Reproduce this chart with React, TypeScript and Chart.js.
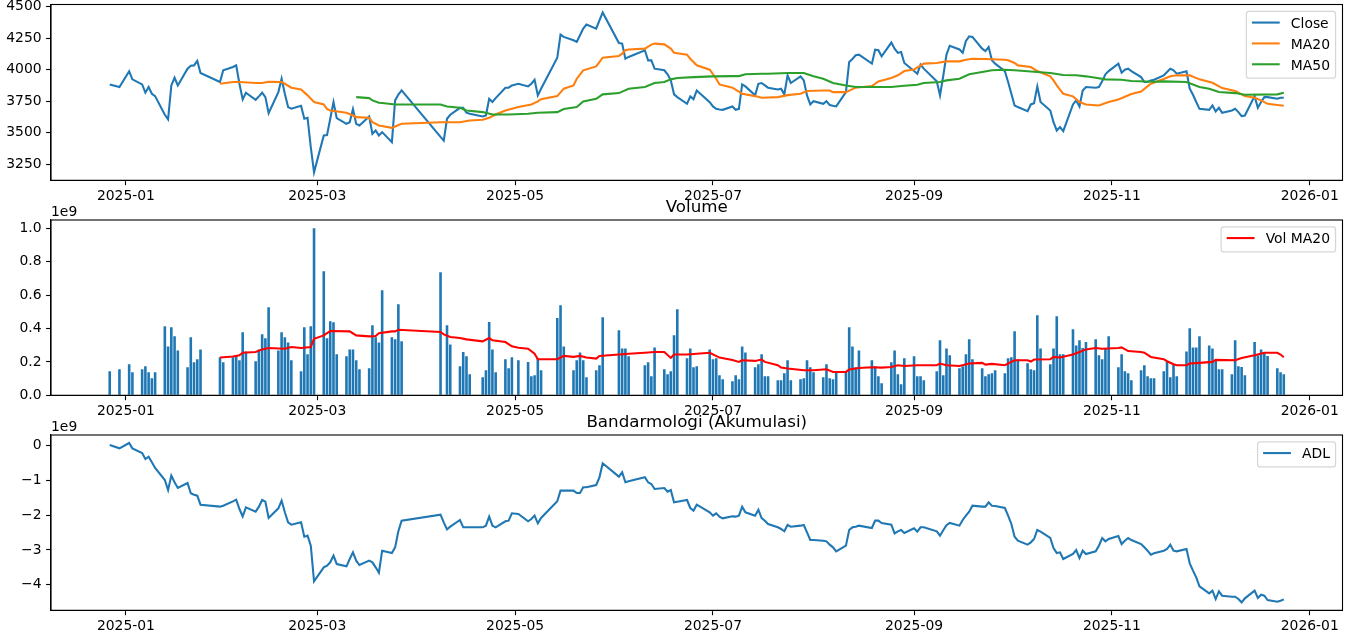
import React, { useEffect, useRef } from 'react';
import { Chart, registerables } from 'chart.js';

Chart.register(...registerables);

// ---------------- DATA ----------------
const dates: string[] = [
  '2024-12-27','2024-12-30',
  '2025-01-02','2025-01-03','2025-01-06','2025-01-07','2025-01-08','2025-01-09','2025-01-10','2025-01-13','2025-01-14','2025-01-15','2025-01-16','2025-01-17','2025-01-20','2025-01-21','2025-01-22','2025-01-23','2025-01-24','2025-01-30','2025-01-31',
  '2025-02-03','2025-02-04','2025-02-05','2025-02-06','2025-02-07','2025-02-10','2025-02-11','2025-02-12','2025-02-13','2025-02-14','2025-02-17','2025-02-18','2025-02-19','2025-02-20','2025-02-21','2025-02-24','2025-02-25','2025-02-26','2025-02-27','2025-02-28',
  '2025-03-03','2025-03-04','2025-03-05','2025-03-06','2025-03-07','2025-03-10','2025-03-11','2025-03-12','2025-03-13','2025-03-14','2025-03-17','2025-03-18','2025-03-19','2025-03-20','2025-03-21','2025-03-24','2025-03-25','2025-03-26','2025-03-27',
  '2025-04-08','2025-04-09','2025-04-10','2025-04-11','2025-04-14','2025-04-15','2025-04-16','2025-04-17','2025-04-21','2025-04-22','2025-04-23','2025-04-24','2025-04-25','2025-04-28','2025-04-29','2025-04-30',
  '2025-05-02','2025-05-05','2025-05-06','2025-05-07','2025-05-08','2025-05-09','2025-05-14','2025-05-15','2025-05-16','2025-05-19','2025-05-20','2025-05-21','2025-05-22','2025-05-23','2025-05-26','2025-05-27','2025-05-28',
  '2025-06-02','2025-06-03','2025-06-04','2025-06-05','2025-06-10','2025-06-11','2025-06-12','2025-06-13','2025-06-16','2025-06-17','2025-06-18','2025-06-19','2025-06-20','2025-06-23','2025-06-24','2025-06-25','2025-06-26','2025-06-30',
  '2025-07-01','2025-07-02','2025-07-03','2025-07-04','2025-07-07','2025-07-08','2025-07-09','2025-07-10','2025-07-11','2025-07-14','2025-07-15','2025-07-16','2025-07-17','2025-07-18','2025-07-21','2025-07-22','2025-07-23','2025-07-24','2025-07-25','2025-07-28','2025-07-29','2025-07-30','2025-07-31',
  '2025-08-01','2025-08-04','2025-08-05','2025-08-06','2025-08-07','2025-08-08','2025-08-11','2025-08-12','2025-08-13','2025-08-14','2025-08-15','2025-08-19','2025-08-20','2025-08-21','2025-08-22','2025-08-25','2025-08-26','2025-08-27','2025-08-28','2025-08-29',
  '2025-09-01','2025-09-02','2025-09-03','2025-09-04','2025-09-08','2025-09-09','2025-09-10','2025-09-11','2025-09-12','2025-09-15','2025-09-16','2025-09-17','2025-09-18','2025-09-19','2025-09-22','2025-09-23','2025-09-24','2025-09-25','2025-09-26','2025-09-29','2025-09-30',
  '2025-10-01','2025-10-02','2025-10-03','2025-10-06','2025-10-07','2025-10-08','2025-10-09','2025-10-10','2025-10-13','2025-10-14','2025-10-15','2025-10-16','2025-10-17','2025-10-20','2025-10-21','2025-10-22','2025-10-23','2025-10-24','2025-10-27','2025-10-28','2025-10-29','2025-10-30','2025-10-31',
  '2025-11-03','2025-11-04','2025-11-05','2025-11-06','2025-11-07','2025-11-10','2025-11-11','2025-11-12','2025-11-13','2025-11-14','2025-11-17','2025-11-18','2025-11-19','2025-11-20','2025-11-21','2025-11-24','2025-11-25','2025-11-26','2025-11-27','2025-11-28',
  '2025-12-01','2025-12-02','2025-12-03','2025-12-04','2025-12-05','2025-12-08','2025-12-09','2025-12-10','2025-12-11','2025-12-12','2025-12-15','2025-12-16','2025-12-17','2025-12-18','2025-12-19','2025-12-22','2025-12-23','2025-12-24',
];

const close: number[] = [
  3883, 3862,
  3987, 3923, 3883, 3817, 3862, 3809, 3790, 3642, 3605, 3875, 3936, 3875, 4008, 4032, 4034, 4069, 3973, 3902, 3995,
  4021, 4034, 3888, 3764, 3817, 3761, 3788, 3817, 3782, 3655, 3822, 3928, 3809, 3703, 3690, 3713, 3610, 3618, 3384, 3185,
  3477, 3480, 3610, 3743, 3615, 3570, 3583, 3687, 3570, 3557, 3628, 3490, 3517, 3477, 3504, 3424, 3756, 3803, 3835,
  3466, 3437, 3610, 3642, 3697, 3697, 3658, 3650, 3628, 3636, 3769, 3743, 3774, 3857, 3857, 3875,
  3888, 3867, 3888, 3920, 3796, 3849, 4095, 4278, 4260, 4233, 4220, 4273, 4326, 4358, 4326, 4392, 4454,
  4212, 4207, 4087, 4101, 4154, 4074, 4074, 4008, 3995, 3963, 3915, 3804, 3782, 3729, 3788, 3766, 3835, 3742,
  3708, 3689, 3684, 3681, 3708, 3681, 3689, 3883, 3867, 3796, 3888, 3894, 3875, 3857, 3843, 3849, 3804, 3955, 3894, 3947, 3915, 3796, 3724,
  3750, 3729, 3750, 3719, 3713, 3708, 3822, 4061, 4085, 4114, 4119, 4048, 4159, 4154, 4106, 4215, 4167, 4133, 4140, 4053,
  3989, 3968, 4040, 4008, 3907, 3796, 3950, 4120, 4190, 4160, 4135, 4228, 4265, 4260, 4167, 4148, 4180, 4074, 4048, 3989, 3902,
  3809, 3716, 3703, 3671, 3724, 3734, 3867, 3743, 3676, 3583, 3517, 3544, 3512, 3724, 3756, 3708, 3835, 3862, 3857, 3862, 3907, 3963, 3989,
  4048, 3976, 4000, 4008, 3989, 3941, 3902, 3902, 3915, 3920, 3955, 3981, 4008, 3995, 3968, 3987, 3849, 3801, 3743, 3689,
  3681, 3716, 3668, 3697, 3658, 3676, 3689, 3663, 3631, 3636, 3790, 3697, 3743, 3782, 3782, 3769, 3777, 3777,
];

// traded volume, millions of shares
const volume: number[] = [
  144, 156,
  186, 138, 156, 174, 138, 102, 138, 413, 293, 407, 353, 269, 168, 347, 198, 216, 275, 228, 198,
  228, 240, 210, 377, 263, 204, 275, 365, 341, 527, 269, 377, 347, 317, 210, 144, 407, 246, 413, 1000,
  743, 341, 443, 437, 246, 234, 275, 275, 210, 156, 162, 419, 347, 317, 629, 347, 335, 545, 323,
  737, 0, 419, 305, 174, 259, 234, 126, 108, 150, 439, 275, 138, 216, 162, 228,
  210, 200, 114, 120, 224, 150, 463, 539, 293, 150, 210, 257, 210, 108, 150, 180, 467,
  389, 281, 281, 234, 180, 198, 114, 287, 156, 126, 144, 359, 515, 222, 281, 168, 174, 275,
  216, 222, 120, 96, 84, 120, 96, 293, 257, 168, 186, 246, 114, 114, 90, 90, 132, 210, 90, 96, 102, 210, 168,
  138, 108, 186, 102, 96, 138, 138, 407, 293, 168, 269, 210, 174, 114, 72, 198, 269, 126, 66, 222,
  234, 114, 114, 90, 144, 329, 120, 281, 240, 162, 174, 246, 335, 216, 162, 114, 126, 132, 150, 132, 222,
  228, 383, 216, 192, 156, 150, 479, 281, 186, 281, 473, 246, 246, 395, 299, 329, 283, 319, 335, 240, 216, 281, 353,
  168, 246, 144, 132, 90, 150, 180, 114, 102, 102, 144, 204, 108, 186, 114, 263, 401, 287, 287, 353,
  299, 281, 210, 156, 156, 126, 329, 174, 170, 120, 319, 240, 275, 259, 236, 162, 138, 126,
];

// accumulation / distribution line, millions
const adl: number[] = [
  20, -77,
  77, -77, -211, -384, -317, -480, -643, -988, -1276, -863, -1055, -1218, -1074, -1372, -1410, -1439, -1698, -1755, -1727,
  -1602, -1554, -1823, -2034, -1775, -1899, -1755, -1564, -1612, -2082, -1803, -1583, -1918, -2206, -2273, -2206, -2619, -2590, -2878, -3904,
  -3501, -3453, -3357, -3165, -3405, -3472, -3261, -3070, -3309, -3434, -3309, -3357, -3501, -3655, -3022, -3089, -2926, -2465, -2158,
  -1986, -2206, -2408, -2331, -2139, -2350, -2350, -2350, -2350, -2302, -2043, -2302, -2350, -2177, -2158, -1947,
  -1966, -2177, -2110, -2014, -2235, -2082, -1602, -1295, -1295, -1295, -1362, -1362, -1199, -1199, -1132, -911, -508,
  -892, -767, -1055, -1026, -911, -1055, -1103, -1247, -1218, -1324, -1276, -1631, -1612, -1564, -1794, -1871, -1698, -1918,
  -2014, -1947, -2043, -2091, -2034, -2043, -2014, -1755, -1918, -2014, -1842, -2082, -2158, -2254, -2350, -2398, -2465, -2283, -2331, -2302, -2283, -2494, -2715,
  -2715, -2734, -2753, -2849, -2926, -3041, -2878, -2427, -2350, -2331, -2302, -2369, -2158, -2158, -2225, -2273, -2523, -2465, -2427, -2513,
  -2379, -2475, -2350, -2350, -2465, -2590, -2436, -2290, -2225, -2302, -2139, -2014, -1899, -1727, -1755, -1755, -1631, -1727, -1736, -1794, -2014,
  -2254, -2619, -2734, -2849, -2782, -2686, -2427, -2475, -2657, -2945, -3089, -3070, -3261, -3118, -3002, -3233, -3022, -3118, -3041, -2878, -2657, -2753, -2686,
  -2600, -2830, -2734, -2657, -2715, -2830, -2926, -3022, -3137, -3098, -3022, -2974, -2849, -3022, -3041, -2974, -3386, -3597, -3789, -4048,
  -4249, -4173, -4413, -4192, -4317, -4345, -4345, -4413, -4508, -4393, -4173, -4384, -4288, -4317, -4441, -4489, -4460, -4422,
];

const ma20Dates: string[] = [
  '2025-01-30','2025-02-03','2025-02-05','2025-02-10','2025-02-12','2025-02-14','2025-02-18','2025-02-19','2025-02-21','2025-02-24','2025-02-26','2025-02-28',
  '2025-03-03','2025-03-04','2025-03-05','2025-03-10','2025-03-12','2025-03-13','2025-03-17','2025-03-18','2025-03-20','2025-03-24','2025-03-25','2025-03-27',
  '2025-04-08','2025-04-14','2025-04-17','2025-04-21','2025-04-23','2025-04-25','2025-04-28',
  '2025-05-02','2025-05-06','2025-05-08','2025-05-09','2025-05-14','2025-05-16','2025-05-19','2025-05-20','2025-05-22','2025-05-26','2025-05-28',
  '2025-06-02','2025-06-03','2025-06-04','2025-06-05','2025-06-10','2025-06-12','2025-06-13','2025-06-16','2025-06-18','2025-06-19','2025-06-23','2025-06-24','2025-06-26','2025-06-30',
  '2025-07-02','2025-07-03','2025-07-07','2025-07-10','2025-07-14','2025-07-16','2025-07-21','2025-07-24','2025-07-28','2025-07-30',
  '2025-08-04','2025-08-06','2025-08-07','2025-08-11','2025-08-14','2025-08-19','2025-08-21','2025-08-25','2025-08-27','2025-08-29',
  '2025-09-01','2025-09-04','2025-09-08','2025-09-11','2025-09-15','2025-09-17','2025-09-19','2025-09-23','2025-09-29','2025-09-30',
  '2025-10-02','2025-10-03','2025-10-07','2025-10-09','2025-10-13','2025-10-14','2025-10-15','2025-10-16','2025-10-17','2025-10-20','2025-10-22','2025-10-24','2025-10-28','2025-10-31',
  '2025-11-03','2025-11-07','2025-11-10','2025-11-13','2025-11-17','2025-11-19','2025-11-21','2025-11-25','2025-11-28',
  '2025-12-02','2025-12-05','2025-12-09','2025-12-12','2025-12-15','2025-12-17','2025-12-19','2025-12-22','2025-12-24',
];
const ma20: number[] = [
  3888, 3902, 3902, 3894, 3894, 3904, 3902, 3888, 3857, 3843, 3796, 3743,
  3724, 3689, 3676, 3658, 3636, 3623, 3618, 3583, 3557, 3538, 3549, 3570,
  3583, 3583, 3597, 3602, 3618, 3644, 3676,
  3703, 3724, 3748, 3766, 3790, 3849, 3875, 3928, 3995, 4026, 4095,
  4109, 4127, 4154, 4160, 4167, 4199, 4207, 4201, 4167, 4135, 4119, 4087, 4035, 4000,
  3928, 3883, 3857, 3809, 3790, 3777, 3782, 3798, 3809, 3830,
  3835, 3835, 3822, 3822, 3857, 3870, 3907, 3934, 3955, 3989,
  4002, 4048, 4053, 4066, 4066, 4079, 4087, 4085, 4079, 4074,
  4053, 4034, 4021, 3989, 3947, 3915, 3875, 3841, 3809, 3788, 3743, 3724, 3716, 3743,
  3764, 3806, 3827, 3888, 3926, 3947, 3955, 3955, 3923,
  3896, 3854, 3830, 3790, 3777, 3756, 3729, 3719, 3713,
];

const ma50Dates: string[] = [
  '2025-03-13','2025-03-17','2025-03-18','2025-03-20','2025-03-21','2025-03-25',
  '2025-04-08','2025-04-10','2025-04-14','2025-04-16','2025-04-21','2025-04-24','2025-04-29',
  '2025-05-05','2025-05-08','2025-05-14','2025-05-16','2025-05-20','2025-05-22','2025-05-26','2025-05-28',
  '2025-06-02','2025-06-05','2025-06-10','2025-06-13','2025-06-16','2025-06-18','2025-06-20','2025-06-25',
  '2025-07-01','2025-07-07','2025-07-09','2025-07-11','2025-07-16','2025-07-18','2025-07-24','2025-07-29',
  '2025-08-01','2025-08-04','2025-08-07','2025-08-11','2025-08-14','2025-08-25','2025-08-28',
  '2025-09-02','2025-09-04','2025-09-09','2025-09-11','2025-09-15','2025-09-18','2025-09-22','2025-09-25','2025-09-29',
  '2025-10-02','2025-10-08','2025-10-13','2025-10-17','2025-10-21','2025-10-24','2025-10-27','2025-10-30',
  '2025-11-04','2025-11-07','2025-11-14','2025-11-17','2025-11-24','2025-11-28',
  '2025-12-01','2025-12-04','2025-12-09','2025-12-12','2025-12-22','2025-12-24',
];
const ma50: number[] = [
  3782, 3774, 3756, 3737, 3735, 3724,
  3724, 3708, 3697, 3676, 3663, 3644, 3644,
  3650, 3658, 3663, 3687, 3703, 3748, 3769, 3804,
  3814, 3849, 3862, 3894, 3902, 3923, 3934, 3941,
  3947, 3949, 3949, 3963, 3968, 3968, 3973, 3973,
  3947, 3928, 3894, 3875, 3862, 3862, 3870,
  3880, 3894, 3902, 3915, 3928, 3963, 3981, 3995, 4000,
  3995, 3983, 3973, 3957, 3955, 3947, 3936, 3923,
  3920, 3910, 3904, 3907, 3902, 3862,
  3849, 3822, 3814, 3801, 3804, 3817,
];

const volMaDates: string[] = [
  '2025-01-30','2025-02-03','2025-02-05','2025-02-06','2025-02-10','2025-02-12','2025-02-14','2025-02-19','2025-02-21','2025-02-24','2025-02-27','2025-02-28',
  '2025-03-03','2025-03-05','2025-03-11','2025-03-13','2025-03-17','2025-03-19','2025-03-20','2025-03-24','2025-03-25','2025-03-26',
  '2025-04-08','2025-04-09','2025-04-11','2025-04-14','2025-04-16','2025-04-21','2025-04-23','2025-04-24','2025-04-28','2025-04-30',
  '2025-05-02','2025-05-05','2025-05-07','2025-05-08','2025-05-14','2025-05-16','2025-05-19','2025-05-21','2025-05-23','2025-05-26','2025-05-27',
  '2025-06-02','2025-06-05','2025-06-10','2025-06-13','2025-06-16','2025-06-18','2025-06-19','2025-06-23','2025-06-26','2025-06-30',
  '2025-07-03','2025-07-07','2025-07-09','2025-07-10','2025-07-14','2025-07-16','2025-07-17','2025-07-21','2025-07-22','2025-07-24','2025-07-29',
  '2025-08-01','2025-08-05','2025-08-07','2025-08-11','2025-08-12','2025-08-15','2025-08-19','2025-08-22','2025-08-25','2025-08-27','2025-08-29',
  '2025-09-02','2025-09-08','2025-09-09','2025-09-11','2025-09-15','2025-09-18','2025-09-22','2025-09-23','2025-09-25','2025-09-29',
  '2025-10-01','2025-10-02','2025-10-06','2025-10-07','2025-10-08','2025-10-13','2025-10-14','2025-10-16','2025-10-20','2025-10-22','2025-10-24','2025-10-27','2025-10-29',
  '2025-11-03','2025-11-04','2025-11-06','2025-11-10','2025-11-11','2025-11-13','2025-11-17','2025-11-18','2025-11-20','2025-11-21','2025-11-24','2025-11-25','2025-11-28',
  '2025-12-02','2025-12-03','2025-12-09','2025-12-11','2025-12-15','2025-12-18','2025-12-22','2025-12-23','2025-12-24',
];
const volMa20: number[] = [
  226, 232, 240, 255, 259, 275, 283, 279, 289, 283, 289, 339,
  359, 385, 383, 359, 353, 355, 372, 383, 383, 393,
  379, 365, 349, 343, 335, 323, 343, 329, 319, 293,
  285, 279, 249, 216, 216, 236, 230, 236, 226, 220, 236,
  244, 249, 255, 259, 259, 224, 244, 244, 249, 255,
  226, 212, 200, 210, 206, 214, 200, 180, 166, 160, 150,
  150, 156, 140, 140, 154, 164, 168, 166, 170, 180, 176,
  180, 180, 190, 180, 176, 190, 194, 184, 188, 180,
  200, 210, 210, 202, 214, 216, 230, 226, 244, 259, 275, 283, 279,
  283, 287, 265, 259, 255, 230, 216, 204, 186, 180, 180, 190, 194,
  200, 212, 210, 224, 240, 255, 255, 244, 228,
];

const xTickDates: string[] = ['2025-01-01', '2025-03-01', '2025-05-01', '2025-07-01', '2025-09-01', '2025-11-01', '2026-01-01'];
const xTickLabels: string[] = ['2025-01', '2025-03', '2025-05', '2025-07', '2025-09', '2025-11', '2026-01'];
const priceTicks: number[] = [3250, 3500, 3750, 4000, 4250, 4500];
const volumeTicks: number[] = [0, 0.2, 0.4, 0.6, 0.8, 1.0]; // x 1e9
const adlTicks: number[] = [-4, -3, -2, -1, 0]; // x 1e9

// ---------------- HELPERS ----------------
const FAMILY = '"DejaVu Sans", sans-serif';
const EM = 13.9;
const W = 1349;
const H = 635;
const AREA_LEFT = 51;
const AREA_RIGHT = 1342.5;
const X_AXIS_H = 30;
const BLUE = '#1f77b4';

const DAY0 = Date.UTC(2025, 0, 1);
const dayOf = (s: string) => {
  const [y, m, d] = s.split('-').map(Number);
  return (Date.UTC(y, m - 1, d) - DAY0) / 864e5;
};

const xs = dates.map(dayOf);
const xLo = Math.min(...xs);
const xHi = Math.max(...xs);
const X_MIN = xLo - 0.05 * (xHi - xLo);
const X_MAX = xHi + 0.05 * (xHi - xLo);

const padRange = (vals: number[]) => {
  const lo = Math.min(...vals);
  const hi = Math.max(...vals);
  const p = 0.05 * (hi - lo);
  return [lo - p, hi + p];
};

const series = (ds: string[], vs: number[], k = 1) =>
  ds.map((d, i) => ({ x: dayOf(d), y: vs[i] * k })).filter((p) => Number.isFinite(p.y));

const mplPlugin = {
  id: 'mpl',
  afterDraw(chart: any, _args: any, opts: any) {
    const { ctx, chartArea: a } = chart;
    ctx.save();
    ctx.strokeStyle = '#000';
    ctx.lineWidth = 1.1;
    ctx.strokeRect(a.left, a.top, a.right - a.left, a.bottom - a.top);
    ctx.fillStyle = '#000';
    if (opts.title) {
      ctx.font = `16.7px ${FAMILY}`;
      ctx.textAlign = 'center';
      ctx.textBaseline = 'alphabetic';
      ctx.fillText(opts.title, (a.left + a.right) / 2, a.top - 8.3);
    }
    if (opts.offset) {
      ctx.font = `${EM}px ${FAMILY}`;
      ctx.textAlign = 'left';
      ctx.textBaseline = 'alphabetic';
      ctx.fillText(opts.offset, a.left, a.top - 4);
    }
    const items = opts.legend || [];
    if (items.length) {
      ctx.font = `${EM}px ${FAMILY}`;
      const tw = Math.max(...items.map((it: any) => ctx.measureText(it.label).width));
      const w = 0.4 * EM + 2 * EM + 0.8 * EM + tw + 0.4 * EM;
      const h = 0.8 * EM + items.length * EM + (items.length - 1) * 0.5 * EM;
      const x0 = a.right - 0.5 * EM - w;
      const y0 = a.top + 0.5 * EM;
      const r = 0.2 * EM;
      ctx.beginPath();
      ctx.moveTo(x0 + r, y0);
      ctx.lineTo(x0 + w - r, y0);
      ctx.arcTo(x0 + w, y0, x0 + w, y0 + r, r);
      ctx.lineTo(x0 + w, y0 + h - r);
      ctx.arcTo(x0 + w, y0 + h, x0 + w - r, y0 + h, r);
      ctx.lineTo(x0 + r, y0 + h);
      ctx.arcTo(x0, y0 + h, x0, y0 + h - r, r);
      ctx.lineTo(x0, y0 + r);
      ctx.arcTo(x0, y0, x0 + r, y0, r);
      ctx.closePath();
      ctx.fillStyle = 'rgba(255,255,255,0.8)';
      ctx.fill();
      ctx.strokeStyle = 'rgba(204,204,204,0.8)';
      ctx.lineWidth = 1.2;
      ctx.stroke();
      items.forEach((it: any, i: number) => {
        const rowTop = y0 + 0.4 * EM + i * 1.5 * EM;
        const ly = rowTop + 0.4 * EM;
        ctx.strokeStyle = it.color;
        ctx.lineWidth = 2.08;
        ctx.beginPath();
        ctx.moveTo(x0 + 0.4 * EM, ly);
        ctx.lineTo(x0 + 2.4 * EM, ly);
        ctx.stroke();
        ctx.fillStyle = '#000';
        ctx.textAlign = 'left';
        ctx.textBaseline = 'alphabetic';
        ctx.fillText(it.label, x0 + 3.2 * EM, rowTop + 0.79 * EM);
      });
    }
    ctx.restore();
  },
};

const tickFont = { family: FAMILY, size: EM };

const xScale = () => ({
  type: 'linear',
  min: X_MIN,
  max: X_MAX,
  offset: false,
  afterBuildTicks: (s: any) => {
    s.ticks = xTickDates.map((t) => ({ value: dayOf(t) }));
  },
  afterFit: (s: any) => {
    s.height = X_AXIS_H;
    s.paddingLeft = 0;
    s.paddingRight = 0;
  },
  ticks: {
    autoSkip: false,
    maxRotation: 0,
    minRotation: 0,
    padding: 3,
    color: '#000',
    font: tickFont,
    callback: (v: number) => {
      const i = xTickDates.findIndex((t) => dayOf(t) === v);
      return i >= 0 ? xTickLabels[i] : '';
    },
  },
  grid: { display: true, offset: false, drawOnChartArea: false, drawTicks: true, tickLength: 4.9, tickColor: '#000', tickWidth: 1.1 },
  border: { display: true, color: '#000', width: 1.1 },
});

const yScale = (min: number, max: number, ticks: number[], fmt: (v: number) => string) => ({
  type: 'linear',
  min,
  max,
  afterBuildTicks: (s: any) => {
    s.ticks = ticks.map((t) => ({ value: t }));
  },
  afterFit: (s: any) => {
    s.width = AREA_LEFT;
    s.paddingTop = 0;
    s.paddingBottom = 0;
  },
  ticks: { padding: 4.5, color: '#000', font: tickFont, callback: (v: number) => fmt(v) },
  grid: { display: true, drawOnChartArea: false, drawTicks: true, tickLength: 4.9, tickColor: '#000', tickWidth: 1.1 },
  border: { display: true, color: '#000', width: 1.1 },
});

const layoutFor = (top: number, bottom: number) => ({
  autoPadding: false,
  padding: { left: 0, right: W - AREA_RIGHT, top, bottom: H - bottom - X_AXIS_H },
});

const lineStyle = { borderWidth: 2.08, pointRadius: 0, pointHoverRadius: 0, tension: 0, fill: false };

const basePlugins = (mpl: any) => ({
  legend: { display: false },
  tooltip: { enabled: false },
  title: { display: false },
  mpl,
});

function priceConfig(): any {
  const [lo, hi] = padRange([...close, ...ma20, ...ma50]);
  return {
    type: 'line',
    data: {
      datasets: [
        { label: 'Close', data: series(dates, close), borderColor: BLUE, order: 3, ...lineStyle },
        { label: 'MA20', data: series(ma20Dates, ma20), borderColor: '#ff7f0e', order: 2, ...lineStyle },
        { label: 'MA50', data: series(ma50Dates, ma50), borderColor: '#2ca02c', order: 1, ...lineStyle },
      ],
    },
    options: {
      animation: false,
      responsive: false,
      events: [],
      layout: layoutFor(4.5, 180.3),
      scales: {
        x: xScale(),
        y: yScale(lo, hi, priceTicks, (v) => String(v)),
      },
      plugins: basePlugins({
        legend: [
          { label: 'Close', color: BLUE },
          { label: 'MA20', color: '#ff7f0e' },
          { label: 'MA50', color: '#2ca02c' },
        ],
      }),
    },
    plugins: [mplPlugin],
  };
}

function volumeConfig(): any {
  const hi = Math.max(...volume, ...volMa20) * 1e6 * 1.05;
  return {
    type: 'bar',
    data: {
      datasets: [
        {
          type: 'bar',
          label: 'Volume',
          data: series(dates, volume, 1e6),
          backgroundColor: BLUE,
          borderWidth: 0,
          categoryPercentage: 0.8,
          barPercentage: 1,
          order: 1,
        },
        { type: 'line', label: 'Vol MA20', data: series(volMaDates, volMa20, 1e6), borderColor: '#ff0000', order: 0, ...lineStyle },
      ],
    },
    options: {
      animation: false,
      responsive: false,
      events: [],
      layout: layoutFor(220, 395.3),
      scales: {
        x: xScale(),
        y: yScale(0, hi, volumeTicks.map((t) => t * 1e9), (v) => (v / 1e9).toFixed(1)),
      },
      plugins: basePlugins({
        title: 'Volume',
        offset: '1e9',
        legend: [{ label: 'Vol MA20', color: '#ff0000' }],
      }),
    },
    plugins: [mplPlugin],
  };
}

function adlConfig(): any {
  const [lo, hi] = padRange(adl.map((v) => v * 1e6));
  return {
    type: 'line',
    data: {
      datasets: [{ label: 'ADL', data: series(dates, adl, 1e6), borderColor: BLUE, ...lineStyle }],
    },
    options: {
      animation: false,
      responsive: false,
      events: [],
      layout: layoutFor(435, 610.3),
      scales: {
        x: xScale(),
        y: yScale(lo, hi, adlTicks.map((t) => t * 1e9), (v) => {
          const n = Math.round(v / 1e9);
          return n < 0 ? '\u2212' + Math.abs(n) : String(n);
        }),
      },
      plugins: basePlugins({
        title: 'Bandarmologi (Akumulasi)',
        offset: '1e9',
        legend: [{ label: 'ADL', color: BLUE }],
      }),
    },
    plugins: [mplPlugin],
  };
}

function Panel({ make }: { make: () => any }) {
  const ref = useRef<HTMLCanvasElement | null>(null);
  useEffect(() => {
    if (!ref.current) return;
    const chart = new Chart(ref.current, make());
    return () => chart.destroy();
  }, [make]);
  return (
    <canvas
      ref={ref}
      width={W}
      height={H}
      style={{ position: 'absolute', left: 0, top: 0, width: W, height: H }}
    />
  );
}

export default function App() {
  return (
    <div style={{ position: 'absolute', left: 0, top: 0, width: W, height: H, background: '#fff', overflow: 'hidden' }}>
      <Panel make={priceConfig} />
      <Panel make={volumeConfig} />
      <Panel make={adlConfig} />
    </div>
  );
}
